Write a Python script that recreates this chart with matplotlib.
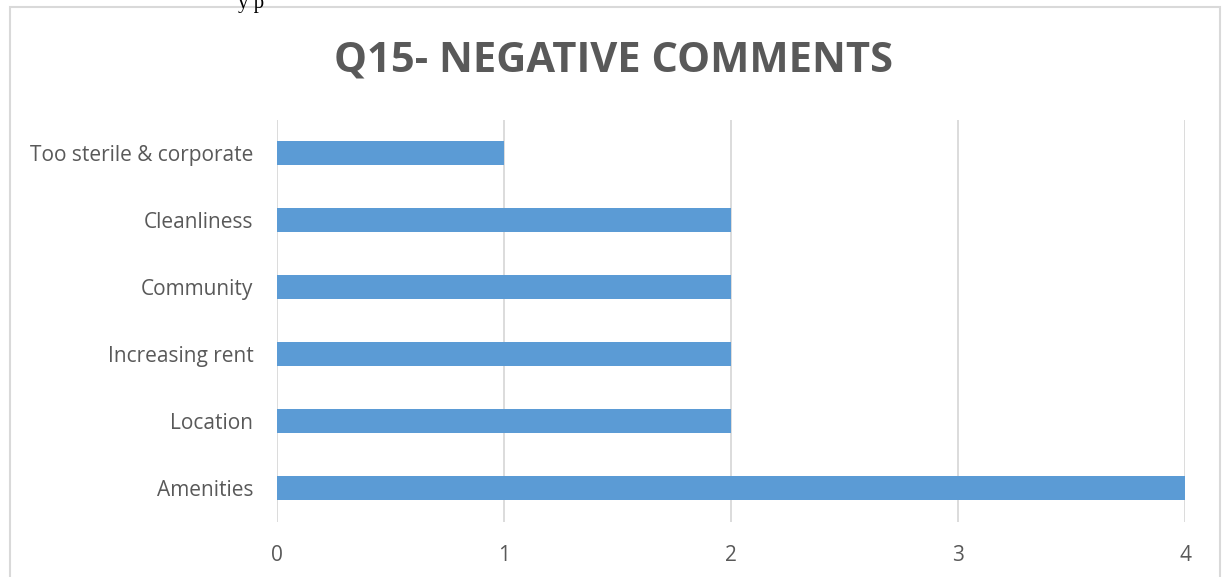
import matplotlib
matplotlib.use("Agg")
import matplotlib.pyplot as plt
from matplotlib.patches import Rectangle

# survey answers, bottom to top
categories = ["Amenities", "Location", "Increasing rent", "Community",
              "Cleanliness", "Too sterile & corporate"]
counts = [4, 2, 2, 2, 2, 1]
x_ticks = [0, 1, 2, 3, 4]

bar_color = "#5B9BD5"
grid_color = "#D9D9D9"
text_color = "#595959"

plt.rcParams["font.family"] = ["Open Sans", "DejaVu Sans"]

fig = plt.figure(figsize=(12.22, 5.77), dpi=100)

# chart frame running off the bottom edge
fig.patches.append(Rectangle((10 / 1222, -0.1), 1210 / 1222, 1.1 - 7.5 / 577,
                             transform=fig.transFigure, fill=False,
                             edgecolor="#D9D9D9", linewidth=1.5))

# clipped line of page text above the chart
fig.text(238 / 1222, 1 + 6 / 577, "y p", family="Liberation Serif",
         fontsize=15, color="black", va="top", ha="left")

ax = fig.add_axes([277 / 1222, 1 - 521.5 / 577, 908 / 1222, 402 / 577])
ax.barh(range(len(categories)), counts, height=0.36, color=bar_color, zorder=3)

ax.set_xlim(0, 4)
ax.set_ylim(-0.5, len(categories) - 0.5)
ax.set_xticks(x_ticks)
ax.set_yticks(range(len(categories)))
ax.set_yticklabels(categories)
ax.xaxis.grid(True, color=grid_color, linewidth=1.3)
ax.set_axisbelow(True)
for s in ax.spines.values():
    s.set_visible(False)
ax.tick_params(axis="both", length=0, labelsize=15, labelcolor=text_color)
ax.tick_params(axis="y", pad=17)
ax.tick_params(axis="x", pad=17)

fig.text(614 / 1222, 1 - 61 / 577, "Q15- NEGATIVE COMMENTS", ha="center",
         va="center", fontsize=30, fontweight="bold", color=text_color)

fig.savefig("out.png", dpi=100)
